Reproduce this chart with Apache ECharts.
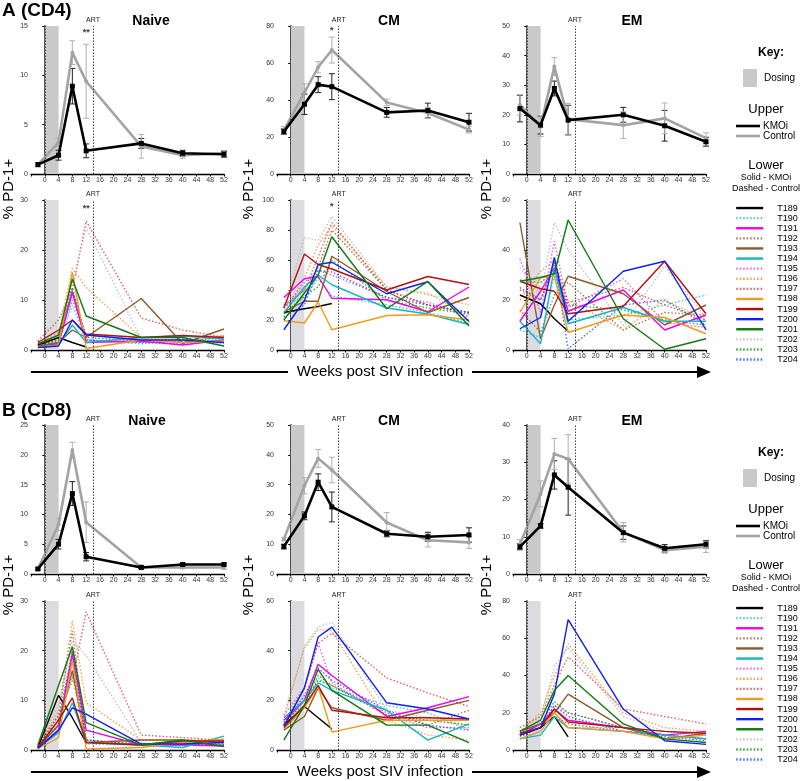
<!DOCTYPE html>
<html>
<head>
<meta charset="utf-8">
<script src="https://cdn.jsdelivr.net/npm/echarts@6/dist/echarts.min.js"></script>
<style>
  html, body { margin: 0; padding: 0; background: #fff; }
  #chart { width: 800px; height: 781px; }
</style>
</head>
<body>
<div id="chart"></div>
<script>
// weeks post SIV infection (first point = pre-infection baseline)
var weeks = [-2, 4, 8, 12, 28, 40, 52];

var animals = ['T189', 'T190', 'T191', 'T192', 'T193', 'T194', 'T195', 'T196',
  'T197', 'T198', 'T199', 'T200', 'T201', 'T202', 'T203', 'T204'];
var animalColors = ['#000000', '#22c2ae', '#f000f0', '#8c5a2e', '#8c5a2e', '#17b4c8', '#e040e0', '#f28c28',
  '#d83a3a', '#f29a1a', '#b31010', '#1020f0', '#0f7a0f', '#b4b4b4', '#128f12', '#2040ff'];
var animalDashed = [false, true, false, true, false, false, true, true,
  true, false, false, false, false, true, true, true];

// y axis ranges, panels in order: CD4 upper N/CM/EM, CD4 lower, CD8 upper, CD8 lower
var yMax = [15, 80, 50, 30, 100, 60, 25, 50, 40, 30, 60, 80];
var yStep = [5, 20, 10, 10, 20, 20, 5, 10, 10, 10, 20, 20];

// ---- upper panels: group means +/- error
var cd4NaiveKmoi = [0.95, 1.9, 8.9, 2.35, 3.1, 2.1, 2.0];
var cd4NaiveKmoiErr = [0.2, 0.5, 1.8, 0.7, 0.5, 0.3, 0.3];
var cd4NaiveCtrl = [0.95, 3.2, 12.3, 9.4, 2.8, 1.9, 2.1];
var cd4NaiveCtrlErr = [0.2, 0.4, 1.2, 3.75, 1.2, 0.3, 0.3];

var cd4CmKmoi = [22.9, 37.7, 48.3, 47.2, 33.3, 34.3, 28.0];
var cd4CmKmoiErr = [1.5, 5.5, 4.3, 7.0, 2.6, 4.0, 4.8];
var cd4CmCtrl = [23.6, 44.0, 57.7, 67.0, 38.7, 33.0, 24.0];
var cd4CmCtrlErr = [2.0, 4.8, 3.0, 7.0, 1.8, 3.0, 1.8];

var cd4EmKmoi = [22.1, 16.5, 28.9, 18.2, 20.0, 16.3, 10.9];
var cd4EmKmoiErr = [4.5, 3.0, 2.5, 5.0, 2.5, 5.2, 1.5];
var cd4EmCtrl = [23.4, 16.0, 36.3, 18.5, 16.5, 18.8, 12.1];
var cd4EmCtrlErr = [3.4, 3.3, 3.0, 5.4, 4.5, 5.2, 1.8];

var cd8NaiveKmoi = [0.85, 5.0, 13.5, 2.9, 1.1, 1.6, 1.6];
var cd8NaiveKmoiErr = [0.2, 0.8, 2.0, 0.7, 0.2, 0.2, 0.2];
var cd8NaiveCtrl = [0.85, 8.3, 20.8, 8.7, 1.1, 1.1, 1.1];
var cd8NaiveCtrlErr = [0.2, 1.0, 1.3, 3.4, 0.4, 0.2, 0.3];

var cd8CmKmoi = [9.2, 19.5, 30.8, 22.5, 13.5, 12.5, 13.1];
var cd8CmKmoiErr = [0.8, 1.3, 2.8, 5.0, 1.0, 1.5, 2.4];
var cd8CmCtrl = [11.7, 29.6, 38.8, 34.9, 17.3, 11.3, 10.6];
var cd8CmCtrlErr = [0.6, 2.7, 3.0, 4.3, 3.3, 2.2, 2.0];

var cd8EmKmoi = [7.3, 12.9, 26.6, 23.3, 11.1, 6.9, 8.0];
var cd8EmKmoiErr = [0.8, 0.6, 3.8, 7.5, 1.8, 1.0, 1.0];
var cd8EmCtrl = [8.0, 21.5, 32.2, 30.9, 11.2, 6.4, 7.3];
var cd8EmCtrlErr = [1.2, 3.5, 4.2, 6.5, 2.6, 0.8, 1.5];

// ---- lower panels: one row per animal (T189..T204)
var cd4NaiveAnimals = [
  [1.0, 2.5, 1.5, 0.6, null, null, null],
  [1.2, 1.5, 9.0, 2.0, 1.2, 2.0, 2.0],
  [0.8, 1.2, 11.5, 1.5, 1.8, 1.0, 2.0],
  [1.0, 2.0, 10.0, 3.0, 2.0, 1.5, 2.8],
  [0.8, 1.5, 4.0, 2.5, 10.3, 1.3, 4.2],
  [0.6, 1.0, 5.0, 1.5, 2.5, 2.8, 2.2],
  [1.0, 2.5, 12.0, 2.0, 1.5, 1.2, 2.0],
  [1.5, 3.5, 16.3, 12.5, 2.5, 1.5, 3.0],
  [1.8, 6.0, 12.0, 25.8, 6.4, 4.0, 2.5],
  [0.5, 1.0, 15.5, 0.3, 2.0, 1.5, 1.8],
  [1.5, 4.0, 6.0, 3.2, 2.5, 2.9, 2.5],
  [0.5, 0.8, 6.0, 3.0, 2.0, 2.0, 1.5],
  [1.2, 3.0, 14.2, 6.8, 2.5, 2.5, 0.8],
  [1.0, 3.0, 13.0, 24.5, 2.2, 1.5, 2.0],
  [0.8, 2.0, 12.5, 2.5, 1.8, 2.2, 1.6],
  [0.7, 1.5, 11.8, 2.0, 1.5, 1.8, 1.4]
];
var cd4CmAnimals = [
  [25, 27.5, 29, 31, null, null, null],
  [30, 35, 48, 36, 30, 25, 18],
  [35, 47.5, 49, 34.5, 33.5, 25.5, 42],
  [28, 40, 55, 80, 40, 30, 25],
  [25.5, 32.5, 32.5, 62.5, 39, 25, 35],
  [25, 42, 50, 43.5, 28, 24, 17],
  [28, 45, 53, 50, 35, 32, 22],
  [22, 48, 70, 83, 42, 37, 30],
  [30, 40, 62, 85, 40, 30, 25],
  [19.5, 18, 32, 13.5, 23, 23.5, 20],
  [28, 64, 57, 54, 40, 49, 43.7],
  [13.5, 33, 57, 58.5, 37.5, 45.5, 19],
  [20, 38, 50, 75.5, 27.5, 45.7, 16],
  [28, 75, 73, 89, 42, 38, 22],
  [24, 36, 42, 60, 33, 28, 24],
  [22, 30, 53, 52, 35, 30, 25]
];
var cd4EmAnimals = [
  [22, 18.5, 12.5, 7.5, null, null, null],
  [8, 5, 30, 12, 14, 18, 22],
  [11.5, 23.5, 33, 15.5, 24, 8, 14],
  [16, 7, 22, 27, 8, 15, 14],
  [51, 4.5, 18, 29.5, 22.5, 10, 18],
  [11.5, 2.5, 33, 10.5, 17, 11.5, 11.5],
  [36.5, 15, 43.5, 17, 28.5, 11, 9],
  [20, 31.5, 36, 20, 8, 20, 12],
  [24, 20, 35, 19, 25, 18, 12],
  [15, 29, 29.5, 7, 14, 13, 6.5],
  [27.5, 24.5, 23.5, 14.5, 17.5, 35.5, 14.5],
  [8.5, 13, 37, 11.5, 31.5, 35.5, 8],
  [27.5, 29, 30.5, 52, 12.5, 0.3, 4.5],
  [33, 22, 51, 40, 10, 33.5, 13],
  [28, 27, 31, 18, 16, 12, 10],
  [25, 20, 35, 0.5, 18, 20, 10]
];
var cd8NaiveAnimals = [
  [0.5, 11, 6.5, 1.5, null, null, null],
  [0.6, 5, 15, 1.2, 1.0, 1.2, 2.0],
  [0.5, 4, 19.5, 4, 1.0, 1.0, 0.8],
  [0.7, 7, 24, 1.5, 1.2, 1.5, 1.2],
  [0.6, 5, 16, 1.5, 2.0, 2.0, 1.5],
  [0.4, 3.5, 9.5, 1.5, 1.0, 0.5, 2.8],
  [0.8, 6, 19, 2.0, 1.0, 1.2, 1.0],
  [0.5, 8, 26, 9.5, 2.0, 2.0, 2.0],
  [0.7, 7, 14, 27.8, 3.0, 2.5, 2.0],
  [0.3, 2.5, 18, 0.2, 0.5, 1.5, 2.2],
  [0.5, 6, 10.5, 1.5, 1.0, 1.8, 1.8],
  [0.3, 4, 8.5, 7.2, 1.2, 1.2, 1.5],
  [1.0, 13, 20.8, 5.5, 1.0, 2.0, 0.7],
  [0.8, 9, 22, 19, 1.5, 1.0, 1.2],
  [0.6, 6, 20, 2.0, 1.2, 1.5, 1.0],
  [0.5, 5, 18.5, 2.0, 1.0, 1.2, 1.0]
];
var cd8CmAnimals = [
  [10, 17.5, 13, 8.5, null, null, null],
  [12, 18, 29, 25, 18, 15, 8],
  [12, 20, 34.5, 30, 13.5, 17, 21.5],
  [10, 20, 30, 26, 15, 10, 16],
  [8, 13.5, 25, 17, 12, 16, 20],
  [13, 20, 27, 24, 16, 4, 10.5],
  [14, 25, 43, 27, 14, 9, 9],
  [14, 41, 48.5, 48, 12, 6, 4],
  [11, 25, 43, 47, 29, 23, 17.5],
  [8.5, 17, 25.5, 7.2, 12, 12, 12],
  [9, 18, 26, 16, 13, 13, 12.5],
  [9.5, 25, 45.5, 49.5, 19, 16.5, 12.5],
  [4, 18, 32.5, 24, 10, 10, 3],
  [12, 42, 49.5, 51.5, 16, 13, 10],
  [11, 20, 28, 26, 14, 12, 10],
  [10, 22, 33, 28, 16, 10, 8]
];
var cd8EmAnimals = [
  [8, 12, 18, 7, null, null, null],
  [6, 10, 20, 12, 12, 10, 8],
  [8, 14, 22, 16, 12, 8, 10],
  [7, 12, 18, 14, 10, 8, 6],
  [10, 14, 20, 30, 12, 6, 9],
  [6, 8, 18, 12, 10, 8, 6],
  [8, 12, 24, 20, 12, 8, 6],
  [10, 20, 40, 57, 20, 12, 10],
  [12, 18, 35, 50, 22, 18, 14],
  [6, 10, 20, 12, 10, 6, 8],
  [9, 12, 22, 15, 12, 10, 9],
  [8, 12, 30, 70, 22, 5, 3],
  [10, 16, 32, 40, 14, 6, 4],
  [8, 16, 45, 55, 18, 10, 8],
  [9, 14, 26, 20, 12, 8, 6],
  [8, 12, 24, 18, 10, 7, 5]
];

// significance marks: panel index, week, value, text
var stars = [
  [0, 12, 14.3, '**'],
  [3, 12, 28.3, '**'],
  [1, 12, 77.5, '*'],
  [4, 12, 95.5, '*']
];

var upperSets = [
  [cd4NaiveKmoi, cd4NaiveKmoiErr, cd4NaiveCtrl, cd4NaiveCtrlErr],
  [cd4CmKmoi, cd4CmKmoiErr, cd4CmCtrl, cd4CmCtrlErr],
  [cd4EmKmoi, cd4EmKmoiErr, cd4EmCtrl, cd4EmCtrlErr],
  [cd8NaiveKmoi, cd8NaiveKmoiErr, cd8NaiveCtrl, cd8NaiveCtrlErr],
  [cd8CmKmoi, cd8CmKmoiErr, cd8CmCtrl, cd8CmCtrlErr],
  [cd8EmKmoi, cd8EmKmoiErr, cd8EmCtrl, cd8EmCtrlErr]
];
var lowerSets = [cd4NaiveAnimals, cd4CmAnimals, cd4EmAnimals, cd8NaiveAnimals, cd8CmAnimals, cd8EmAnimals];

// layout
var colLeft = [31, 277, 513];
var colWidth = [193, 192, 193];
var rowTop = [26, 200, 425, 601];
var rowHeight = [148, 150, 149, 149];

var chart = echarts.init(document.getElementById('chart'));

function pairs(vals) {
  return weeks.map(function (w, i) { return [w, vals[i]]; });
}

function errorBars(idx, vals, errs, color) {
  return {
    type: 'custom',
    xAxisIndex: idx, yAxisIndex: idx,
    silent: true, z: 3,
    encode: { x: 0, y: [1, 2] },
    data: weeks.map(function (w, i) { return [w, vals[i] - errs[i], vals[i] + errs[i]]; }),
    renderItem: function (params, api) {
      var lo = api.coord([api.value(0), api.value(1)]);
      var hi = api.coord([api.value(0), api.value(2)]);
      var st = { stroke: color, lineWidth: 1 };
      return {
        type: 'group',
        children: [
          { type: 'line', shape: { x1: lo[0], y1: lo[1], x2: hi[0], y2: hi[1] }, style: st },
          { type: 'line', shape: { x1: lo[0] - 3, y1: lo[1], x2: lo[0] + 3, y2: lo[1] }, style: st },
          { type: 'line', shape: { x1: hi[0] - 3, y1: hi[1], x2: hi[0] + 3, y2: hi[1] }, style: st }
        ]
      };
    }
  };
}

function dosingMarks(upper) {
  return {
    markArea: {
      silent: true,
      itemStyle: { color: upper ? '#c9c9c9' : '#dcdce0' },
      data: [[{ xAxis: 0 }, { xAxis: 4 }]]
    },
    markLine: {
      silent: true,
      symbol: 'none',
      animation: false,
      lineStyle: { type: [1.5, 1.5], color: '#444', width: 1 },
      label: { show: false },
      data: [
        { xAxis: 0 },
        { xAxis: 14, label: { show: true, position: 'end', formatter: 'ART', fontSize: 7, color: '#222', distance: 2 } }
      ]
    }
  };
}

var grids = [], xAxes = [], yAxes = [], series = [];

for (var p = 0; p < 12; p++) {
  var row = Math.floor(p / 3), col = p % 3;
  grids.push({ left: colLeft[col], width: colWidth[col], top: rowTop[row], height: rowHeight[row] });
  xAxes.push({
    gridIndex: p, type: 'value', min: -4, max: 52, interval: 4,
    axisLine: { lineStyle: { color: '#000', width: 1.3 } },
    axisTick: { length: 2.5, lineStyle: { color: '#000' } },
    axisLabel: { fontSize: 7, color: '#333', margin: 3, formatter: function (v) { return v < 0 ? '' : v; } },
    splitLine: { show: false }
  });
  yAxes.push({
    gridIndex: p, type: 'value', min: 0, max: yMax[p], interval: yStep[p],
    axisLine: { show: true, lineStyle: { color: '#000', width: 1.6 } },
    axisTick: { show: true, length: 2.5, lineStyle: { color: '#000' } },
    axisLabel: { fontSize: 7, color: '#333', margin: 3 },
    splitLine: { show: false }
  });

  var upper = row === 0 || row === 2;
  if (upper) {
    var set = upperSets[(row === 0 ? 0 : 3) + col];
    series.push(Object.assign({
      name: 'KMOi', type: 'line', xAxisIndex: p, yAxisIndex: p, z: 5,
      data: pairs(set[0]), symbol: 'rect', symbolSize: 5,
      itemStyle: { color: '#000' }, lineStyle: { color: '#000', width: 2.6 }
    }, dosingMarks(true)));
    series.push({
      name: 'Control', type: 'line', xAxisIndex: p, yAxisIndex: p, z: 4,
      data: pairs(set[2]), symbol: 'circle', symbolSize: 4,
      itemStyle: { color: '#a3a3a3' }, lineStyle: { color: '#a3a3a3', width: 2.6 }
    });
    series.push(errorBars(p, set[0], set[1], '#222'));
    series.push(errorBars(p, set[2], set[3], '#b0b0b0'));
  } else {
    var rows = lowerSets[(row === 1 ? 0 : 3) + col];
    animals.forEach(function (name, a) {
      var s = {
        name: name, type: 'line', xAxisIndex: p, yAxisIndex: p,
        data: pairs(rows[a]), symbol: 'none', z: animalDashed[a] ? 3 : 4,
        itemStyle: { color: animalColors[a] },
        lineStyle: animalDashed[a]
          ? { color: animalColors[a], width: 1.4, type: [1.5, 2], opacity: 0.8 }
          : { color: animalColors[a], width: 1.4 }
      };
      if (a === 0) Object.assign(s, dosingMarks(false));
      series.push(s);
    });
  }
}

stars.forEach(function (st) {
  series.push({
    type: 'scatter', xAxisIndex: st[0], yAxisIndex: st[0], silent: true,
    symbolSize: 1, itemStyle: { color: 'rgba(0,0,0,0)' },
    data: [[st[1], st[2]]],
    label: { show: true, position: 'inside', formatter: st[3], fontSize: 9, fontWeight: 'bold', color: '#000' }
  });
});

// static text, axis names, arrows and key
var graphics = [];
function txt(x, y, text, size, opts) {
  graphics.push({
    type: 'text', x: x, y: y, rotation: (opts && opts.rot) || 0, silent: true,
    style: {
      text: text, fill: '#000',
      font: ((opts && opts.bold) ? 'bold ' : '') + size + 'px Arial, "Liberation Sans", sans-serif',
      textAlign: (opts && opts.align) || 'center', textVerticalAlign: 'middle'
    }
  });
}
function seg(x1, y1, x2, y2, color, w) {
  graphics.push({ type: 'line', silent: true, shape: { x1: x1, y1: y1, x2: x2, y2: y2 }, style: { stroke: color, lineWidth: w } });
}

[0, 400].forEach(function (dy, k) {
  txt(2, 11 + dy, k === 0 ? 'A (CD4)' : 'B (CD8)', 19, { bold: true, align: 'left' });
  txt(k === 0 ? 151 : 147, 21 + dy, 'Naive', 14, { bold: true });
  txt(389, 21 + dy, 'CM', 14, { bold: true });
  txt(632, 21 + dy, 'EM', 14, { bold: true });
  [9, 249, 487].forEach(function (x) { txt(x, 189 + dy * 0.99, '% PD-1+', 15, { rot: Math.PI / 2 }); });

  // weeks arrow
  seg(31, 372 + dy, 288, 372 + dy, '#000', 1.8);
  seg(472, 372 + dy, 700, 372 + dy, '#000', 1.8);
  graphics.push({ type: 'polygon', silent: true, shape: { points: [[697, 366 + dy], [711, 372 + dy], [697, 378 + dy]] }, style: { fill: '#000' } });
  txt(380, 372 + dy, 'Weeks post SIV infection', 15);

  // key
  txt(771, 53 + dy, 'Key:', 12, { bold: true });
  graphics.push({ type: 'rect', silent: true, shape: { x: 743, y: 69 + dy, width: 14, height: 18 }, style: { fill: '#c9c9c9' } });
  txt(764, 78 + dy, 'Dosing', 10, { align: 'left' });
  txt(766, 109 + dy, 'Upper', 13);
  seg(736, 126 + dy, 760, 126 + dy, '#000', 2.6);
  txt(763, 126 + dy, 'KMOi', 10, { align: 'left' });
  seg(736, 136 + dy, 760, 136 + dy, '#a3a3a3', 2.6);
  txt(763, 136 + dy, 'Control', 10, { align: 'left' });
  txt(766, 165 + dy, 'Lower', 13);
  txt(766, 178 + dy, 'Solid - KMOi', 9);
  txt(766, 189 + dy, 'Dashed - Control', 9);
});

function animalLegend(top) {
  return {
    data: animals, orient: 'vertical', left: 735, top: top, padding: 0,
    itemWidth: 27, itemHeight: 10.1, itemGap: 0, selectedMode: false,
    lineStyle: { width: 2.4 },
    itemStyle: { opacity: 0 },
    textStyle: { fontSize: 9, color: '#000', lineHeight: 10.1, padding: [0, 0, 0, 9] }
  };
}

chart.setOption({
  animation: false,
  grid: grids,
  xAxis: xAxes,
  yAxis: yAxes,
  legend: [animalLegend(203), animalLegend(603)],
  graphic: graphics,
  series: series
});
</script>
</body>
</html>
